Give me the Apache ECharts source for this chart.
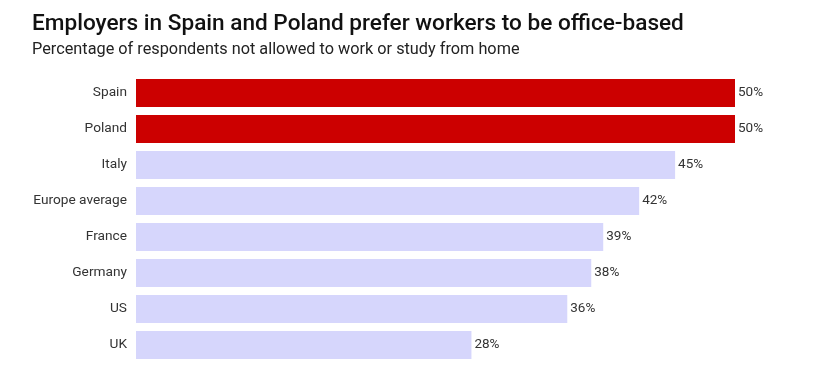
<!DOCTYPE html>
<html>
<head>
<meta charset="utf-8">
<script src="https://cdn.jsdelivr.net/npm/echarts@6/dist/echarts.min.js"></script>
<style>
  html, body { margin: 0; padding: 0; background: #fff; }
  #chart { width: 823px; height: 375px; }
</style>
</head>
<body>
<div id="chart"></div>
<script>
var countries = ['Spain', 'Poland', 'Italy', 'Europe average', 'France', 'Germany', 'US', 'UK'];
var shares = [50, 50, 45, 42, 39, 38, 36, 28];
var highlighted = ['Spain', 'Poland'];

var chart = echarts.init(document.getElementById('chart'));

var option = {
    backgroundColor: '#fff',
    animation: false,
    title: {
        text: 'Employers in Spain and Poland prefer workers to be office-based',
        subtext: 'Percentage of respondents not allowed to work or study from home',
        left: 27,
        top: 8,
        itemGap: 6,
        textStyle: {
            fontFamily: 'Roboto',
            fontWeight: 500,
            fontSize: 22.6,
            color: '#111'
        },
        subtextStyle: {
            fontFamily: 'Roboto',
            fontSize: 16.3,
            color: '#222'
        }
    },
    grid: {
        left: 136,
        right: 88,
        top: 75,
        bottom: 12
    },
    xAxis: {
        type: 'value',
        min: 0,
        max: 50,
        show: false
    },
    yAxis: {
        type: 'category',
        data: countries,
        inverse: true,
        axisLine: { show: false },
        axisTick: { show: false },
        axisLabel: {
            margin: 9,
            fontFamily: 'Roboto',
            fontSize: 13.7,
            color: '#333'
        }
    },
    series: [{
        type: 'bar',
        barCategoryGap: '22%',
        data: shares.map(function (v, i) {
            return {
                value: v,
                itemStyle: {
                    color: highlighted.indexOf(countries[i]) >= 0 ? '#cc0000' : '#d6d6fc'
                }
            };
        }),
        label: {
            show: true,
            position: 'right',
            distance: 3,
            formatter: '{c}%',
            fontFamily: 'Roboto',
            fontSize: 13.5,
            color: '#333'
        }
    }]
};

chart.setOption(option);
</script>
</body>
</html>
